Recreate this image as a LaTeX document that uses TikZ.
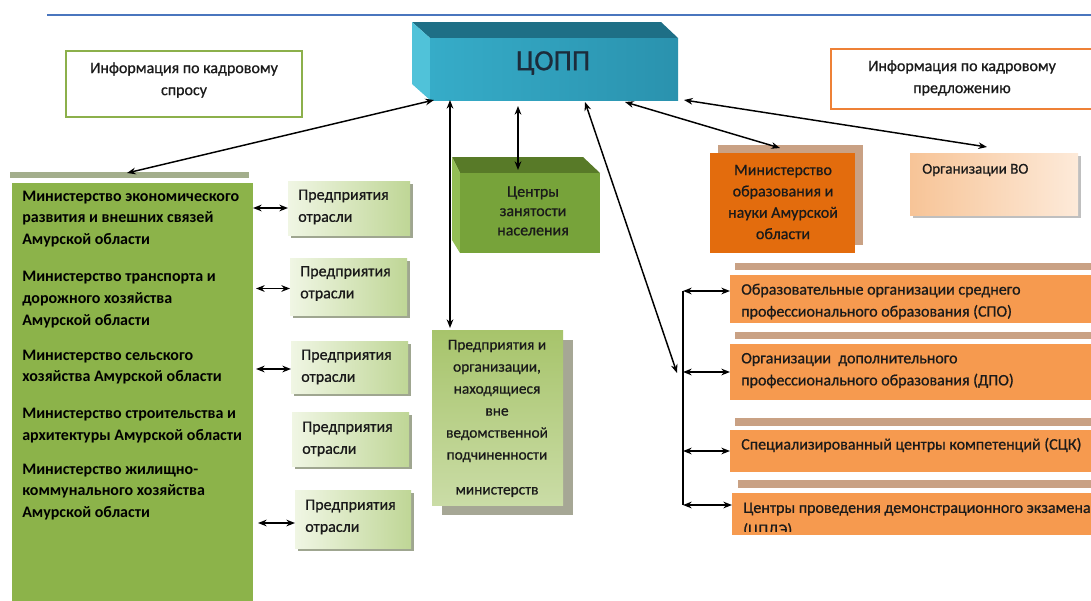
\documentclass[tikz,border=0pt]{standalone}
\usepackage{fontspec}
\setmainfont{Carlito}
\newfontfamily\medfont[FakeBold=0.7]{Carlito}
\usetikzlibrary{arrows.meta,calc}
\definecolor{topblue}{HTML}{4A76BE}
\definecolor{gborder}{HTML}{8CB04B}
\definecolor{oborder}{HTML}{EE8136}
\definecolor{cfrontL}{HTML}{36ACC8}
\definecolor{cfrontR}{HTML}{2A92AE}
\definecolor{ctop}{HTML}{1E6F86}
\definecolor{cside}{HTML}{50C2D9}
\definecolor{coppink}{HTML}{1C2B3A}
\definecolor{gfront}{HTML}{77A33A}
\definecolor{gtop}{HTML}{587A28}
\definecolor{gside}{HTML}{93BE55}
\definecolor{bigg}{HTML}{8CB34A}
\definecolor{biggbar}{HTML}{A3AE8C}
\definecolor{oranged}{HTML}{E36C0D}
\definecolor{tanbar}{HTML}{C9A184}
\definecolor{orangel}{HTML}{F69A4F}
\definecolor{entl}{HTML}{F0F6E4}
\definecolor{entd}{HTML}{BFD696}
\definecolor{entsh}{HTML}{9FA690}
\definecolor{midtop}{HTML}{A7C46B}
\definecolor{midbot}{HTML}{CADCA6}
\definecolor{midsh}{HTML}{A6A795}
\definecolor{vol}{HTML}{F7C497}
\definecolor{vor}{HTML}{FDEAD9}
\definecolor{txtc}{HTML}{1A1A1A}
\newcommand\rbox[6]{\node[inner sep=0pt,outer sep=0pt,#2,minimum width={(#5-#3)*0.75pt},minimum height={(#6-#4)*0.75pt}] (#1) at ({(#3+#5)/2},{(#4+#6)/2}) {};}
\begin{document}
\begin{tikzpicture}[x=0.75pt,y=-0.75pt,
  lnk/.style={{Stealth[length=6.5pt,width=5pt]}-{Stealth[length=6.5pt,width=5pt]}, line width=1.1pt, black},
  plain/.style={line width=1.1pt, black},
  txt/.style={inner sep=0pt, align=left, text=txtc, font=\medfont\fontsize{12}{16.5}\selectfont},
  ctxt/.style={txt, align=center},
  gtxt/.style={inner sep=0pt, align=left, text=black, font=\fontsize{12}{16.2}\bfseries\selectfont, anchor=west},
  ent/.style={left color=entl, right color=entd},
  enttxt/.style={txt, anchor=west},
  otxt/.style={txt, anchor=west}]
\useasboundingbox (0,0) rectangle (1091,600);
\fill[white] (0,0) rectangle (1091,600);
\draw[topblue,line width=1.5pt] (47,15) -- (1091,15);

% information boxes
\rbox{infoD}{draw=gborder,line width=2.2pt}{66}{51}{302}{117}
\node[ctxt] (infoDt) at (184,80) {Информация по кадровому\\спросу};
\rbox{infoS}{draw=oborder,line width=2.2pt}{831}{49}{1093}{109}
\node[ctxt] (infoSt) at (962,78) {Информация по кадровому\\предложению};

% ЦОПП 3D box
\fill[ctop] (412,22) -- (661,22) -- (678,38) -- (430,38) -- cycle;
\fill[cside] (412,22) -- (430,38) -- (430,100) -- (412,84) -- cycle;
\rbox{copp}{left color=cfrontL, right color=cfrontR}{430}{38}{678}{100}
\node[inner sep=0pt, text=coppink, font=\medfont\fontsize{22}{26}\selectfont] (coppt) at (553,63) {ЦОПП};

% employment centres 3D box
\fill[gtop] (452,157) -- (583,157) -- (600,173) -- (460,173) -- cycle;
\fill[gside] (452,157) -- (460,173) -- (460,253) -- (452,240) -- cycle;
\rbox{cz}{fill=gfront}{460}{173}{600}{253}
\node[ctxt, font=\medfont\fontsize{12}{14.5}\selectfont] (czt) at (533,211) {Центры\\занятости\\населения};

% ministry of education
\rbox{ominS}{fill=tanbar}{718}{145}{863}{245}
\rbox{omin}{fill=oranged}{710}{153}{855}{253}
\node[ctxt, font=\medfont\fontsize{12}{16}\selectfont] (omint) at (783,202) {Министерство\\образования и\\науки Амурской\\области};

% higher education organisations
\fill[black!25] (913,156) rectangle (1081,218);
\rbox{ovo}{left color=vol, right color=vor}{910}{153}{1078}{215}
\node[txt, anchor=west, font=\medfont\fontsize{11.3}{16}\selectfont] (ovot) at (922,170) {Организации ВО};

% big green box
\rbox{gbar}{fill=biggbar}{10}{172}{249}{178}
\rbox{G}{fill=bigg}{12}{183}{253}{601}
\node[gtxt] (g1) at (22,219) {Министерство экономического\\развития и внешних связей\\Амурской области};
\node[gtxt] (g2) at (22,299.5) {Министерство транспорта и\\дорожного хозяйства\\Амурской области};
\node[gtxt] (g3) at (22,367) {Министерство сельского\\хозяйства Амурской области};
\node[gtxt] (g4) at (22,425.5) {Министерство строительства и\\архитектуры Амурской области};
\node[gtxt] (g5) at (22,492) {Министерство жилищно-\\коммунального хозяйства\\Амурской области};

% enterprises
\foreach \a/\b/\c/\d in {288/181/410/235, 290/258/407/315, 291/341/408/393, 292/412/409/466, 295/490/411/548}{
  \fill[entsh] (\a+3,\b+3) rectangle (\c+3,\d+3);
}
\rbox{e1}{ent}{288}{181}{410}{235}
\rbox{e2}{ent}{290}{258}{407}{315}
\rbox{e3}{ent}{291}{341}{408}{393}
\rbox{e4}{ent}{292}{412}{409}{466}
\rbox{e5}{ent}{295}{490}{411}{548}
\node[enttxt] (e1t) at ($(e1.west)+(10,-1)$) {Предприятия\\отрасли};
\node[enttxt] (e2t) at ($(e2.west)+(10,-3)$) {Предприятия\\отрасли};
\node[enttxt] (e3t) at ($(e3.west)+(10,0)$) {Предприятия\\отрасли};
\node[enttxt] (e4t) at ($(e4.west)+(10,0)$) {Предприятия\\отрасли};
\node[enttxt] (e5t) at ($(e5.west)+(10,-2)$) {Предприятия\\отрасли};

% middle box
\rbox{midS}{fill=midsh}{442}{340}{573}{515}
\rbox{mid}{top color=midtop, bottom color=midbot}{432}{330}{563}{505}
\node[ctxt, font=\medfont\fontsize{11.5}{16.5}\selectfont] (midt) at (497,401) {Предприятия и\\организации,\\находящиеся\\вне\\ведомственной\\подчиненности};
\node[ctxt, font=\medfont\fontsize{11.5}{16.5}\selectfont] (midt2) at (497,492) {министерств};

% orange right boxes
\rbox{b1}{fill=tanbar}{735}{263}{1092}{270}
\rbox{o1}{fill=orangel}{730}{275}{1092}{323}
\rbox{b2}{fill=tanbar}{735}{332}{1092}{339}
\rbox{o2}{fill=orangel}{730}{344}{1092}{400}
\rbox{b3}{fill=tanbar}{735}{418}{1092}{426}
\rbox{o3}{fill=orangel}{730}{430}{1092}{472}
\rbox{b4}{fill=tanbar}{738}{480}{1092}{488}
\rbox{o4}{fill=orangel}{732}{493}{1092}{535}
\node[otxt] (o1t) at (741,301.5) {Образовательные организации среднего\\профессионального образования (СПО)};
\node[otxt] (o2t) at (741,370.5) {Организации\ \ дополнительного\\профессионального образования (ДПО)};
\node[otxt] (o3t) at (741,445) {Специализированный центры компетенций (СЦК)};
\begin{scope}
  \clip (732,493) rectangle (1092,531);
  \node[otxt] (o4t) at (743,520) {Центры проведения демонстрационного экзамена\\(ЦПДЭ)};
\end{scope}

% connectors from ЦОПП
\draw[lnk] ($(copp.south west)+(4,0)$) -- ($(gbar.north west)+(117,1)$);
\draw[lnk] ($(copp.south west)+(20,0)$) -- ($(mid.north west)+(18,-2)$);
\draw[lnk] ($(copp.south west)+(88,6)$) -- ($(cz.north west)+(58,-3)$);
\coordinate (brkin) at (677,373);
\draw[lnk] ($(copp.south west)+(155,2)$) -- (brkin);
\draw[lnk] ($(copp.south east)+(-53,2)$) -- ($(omin.north west)+(70,-5)$);
\draw[lnk] ($(copp.south east)+(6,0)$) -- ($(ovo.north west)+(77,-6)$);

% left arrows
\draw[lnk] (G.east |- e1.west) -- (e1.west);
\draw[lnk] ($(G.east |- e2.west)+(3,2)$) -- ($(e2.west)+(0,2)$);
\draw[lnk] ($(G.east |- e3.west)+(3,2)$) -- ($(e3.west)+(0,2)$);
\draw[lnk] ($(G.east |- e5.west)+(5,4)$) -- ($(e5.west)+(0,4)$);

% bracket
\coordinate (k1) at (683,291);
\coordinate (k2) at (683,372);
\coordinate (k3) at (683,451);
\coordinate (k4) at (683,505);
\draw[plain] (k1) -- (k4);
\draw[lnk] (k1) -- (k1 -| o1.west);
\draw[lnk] (k2) -- (k2 -| o2.west);
\draw[lnk] (k3) -- (k3 -| o3.west);
\draw[lnk] (k4) -- (k4 -| o4.west);
\end{tikzpicture}
\end{document}
